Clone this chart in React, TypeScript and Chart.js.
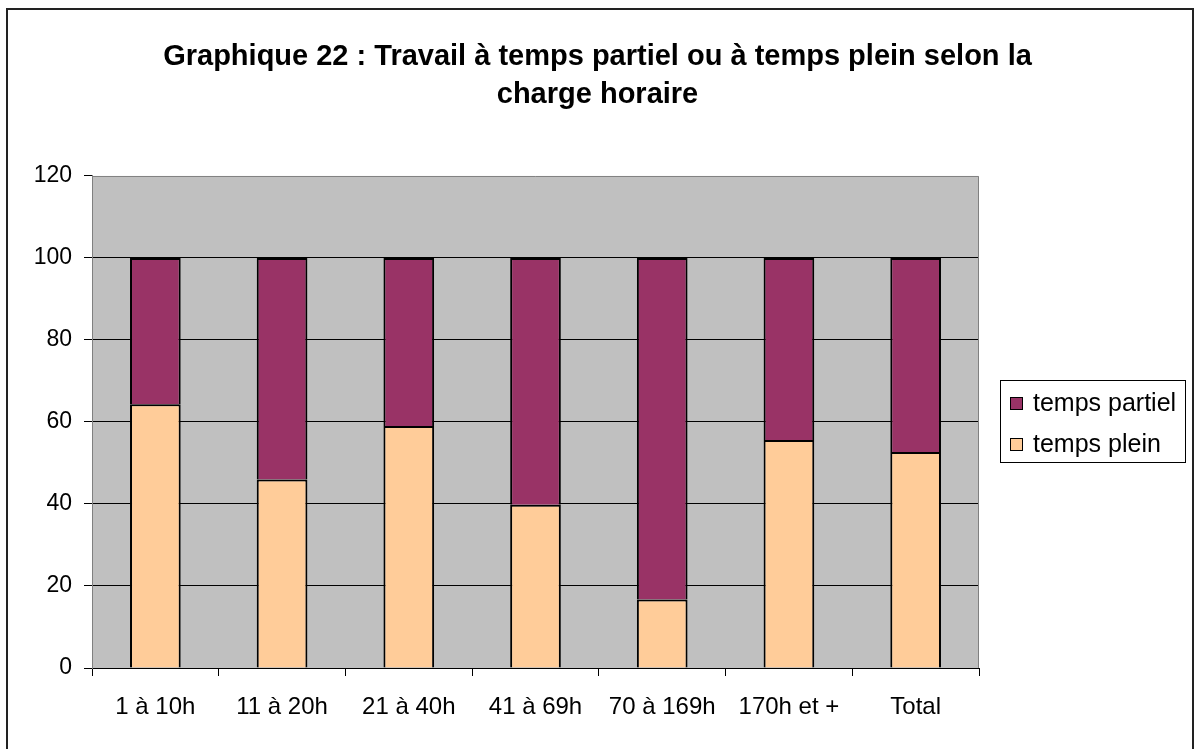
import React, { useEffect, useRef } from "react";
import { Chart, registerables } from "chart.js";

Chart.register(...registerables);

const categories = ["1 à 10h", "11 à 20h", "21 à 40h", "41 à 69h", "70 à 169h", "170h et +", "Total"];
const tempsPlein = [64.3, 46.0, 59.0, 39.8, 16.7, 55.6, 52.7];
const tempsPartiel = [35.7, 54.0, 41.0, 60.2, 83.3, 44.4, 47.3];
const titleLines = ["Graphique 22 : Travail à temps partiel ou à temps plein selon la", "charge horaire"];
const yTicks = [0, 20, 40, 60, 80, 100, 120];

const FONT = "'Liberation Sans', Arial, sans-serif";

const decorPlugin = {
  id: "decor",
  beforeDraw(chart: any) {
    const { ctx, chartArea } = chart;
    ctx.save();
    ctx.fillStyle = "#ffffff";
    ctx.fillRect(0, 0, chart.width, chart.height);
    ctx.fillStyle = "#C0C0C0";
    ctx.fillRect(chartArea.left, chartArea.top, chartArea.right - chartArea.left, chartArea.bottom - chartArea.top);
    ctx.restore();
  },
  afterDatasetsDraw(chart: any) {
    const { ctx, chartArea } = chart;
    ctx.save();
    ctx.strokeStyle = "#808080";
    ctx.lineWidth = 1;
    ctx.beginPath();
    ctx.moveTo(chartArea.left + 0.5, chartArea.bottom);
    ctx.lineTo(chartArea.left + 0.5, chartArea.top + 0.5);
    ctx.lineTo(chartArea.right - 0.5, chartArea.top + 0.5);
    ctx.lineTo(chartArea.right - 0.5, chartArea.bottom);
    ctx.stroke();
    ctx.restore();
  },
  afterDraw(chart: any) {
    const { ctx } = chart;
    ctx.save();
    ctx.strokeStyle = "#222222";
    ctx.lineWidth = 2;
    ctx.strokeRect(7, 9, 1186, 760);
    ctx.lineWidth = 1;
    ctx.strokeStyle = "#000000";
    ctx.strokeRect(1000.5, 380.5, 185, 82);
    const items = [chart.data.datasets[1], chart.data.datasets[0]];
    ctx.font = `25px ${FONT}`;
    ctx.textBaseline = "middle";
    ctx.textAlign = "left";
    items.forEach((ds: any, i: number) => {
      const cy = 404 + i * 41;
      ctx.fillStyle = ds.backgroundColor;
      ctx.fillRect(1010.5, cy - 6.5, 12, 12);
      ctx.strokeStyle = "#000000";
      ctx.strokeRect(1010.5, cy - 6.5, 12, 12);
      ctx.fillStyle = "#000000";
      ctx.fillText(ds.label, 1033, cy);
    });
    ctx.restore();
  },
};

export default function App() {
  const ref = useRef<HTMLCanvasElement>(null);
  useEffect(() => {
    if (!ref.current) return;
    const chart = new Chart(ref.current, {
      type: "bar",
      data: {
        labels: categories,
        datasets: [
          {
            label: "temps plein",
            data: tempsPlein,
            backgroundColor: "#FFCC99",
            borderColor: "#000000",
            borderWidth: 2,
            barPercentage: 0.4,
            categoryPercentage: 1.0,
          },
          {
            label: "temps partiel",
            data: tempsPartiel,
            backgroundColor: "#993366",
            borderColor: "#000000",
            borderWidth: 2,
            barPercentage: 0.4,
            categoryPercentage: 1.0,
          },
        ],
      },
      plugins: [decorPlugin],
      options: {
        animation: false,
        responsive: false,
        maintainAspectRatio: false,
        layout: { padding: { left: 0, right: 0, top: 0, bottom: 0 } },
        plugins: {
          legend: { display: false },
          tooltip: { enabled: false },
          title: {
            display: true,
            text: titleLines,
            color: "#000000",
            font: { family: FONT, size: 29, weight: "bold", lineHeight: 1.31 },
            padding: { top: 38, bottom: 62 },
          },
        },
        scales: {
          x: {
            stacked: true,
            grid: {
              offset: true,
              drawOnChartArea: false,
              drawTicks: true,
              tickLength: 8,
              tickColor: "#000000",
              color: "#000000",
            },
            border: { display: true, color: "#000000", width: 1 },
            ticks: {
              color: "#000000",
              font: { family: FONT, size: 24 },
              padding: 17,
              maxRotation: 0,
              autoSkip: false,
            },
            afterFit(scale: any) {
              scale.height = 81;
            },
          },
          y: {
            stacked: true,
            min: 0,
            max: 120,
            afterBuildTicks(scale: any) {
              scale.ticks = yTicks.map((v) => ({ value: v }));
            },
            grid: {
              color: (c: any) => (c.tick && c.tick.value === 120 ? "rgba(0,0,0,0)" : "#000000"),
              tickColor: "#000000",
              tickLength: 8,
              lineWidth: 1,
            },
            border: { display: true, color: "#808080", width: 1 },
            ticks: {
              color: "#000000",
              font: { family: FONT, size: 23 },
              padding: 12,
            },
            afterFit(scale: any) {
              scale.width = 92;
            },
          },
          yRight: {
            position: "right",
            display: true,
            min: 0,
            max: 1,
            grid: { display: false, drawTicks: false },
            border: { display: false },
            ticks: { display: false },
            afterFit(scale: any) {
              scale.width = 216;
            },
          },
        },
      },
    });
    return () => chart.destroy();
  }, []);
  return (
    <div style={{ position: "absolute", left: 0, top: 0, width: 1195, height: 749 }}>
      <canvas ref={ref} width={1195} height={749} style={{ display: "block", width: 1195, height: 749 }} />
    </div>
  );
}
